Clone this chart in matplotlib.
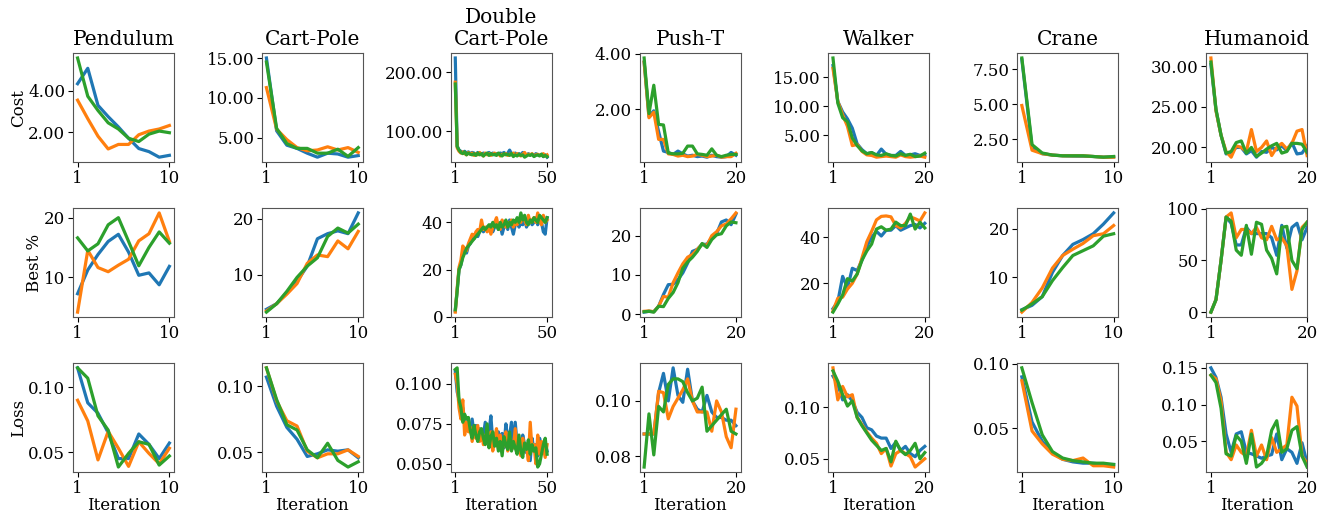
import matplotlib
matplotlib.use("Agg")
import matplotlib.pyplot as plt
from matplotlib.ticker import MaxNLocator, FormatStrFormatter

plt.rcParams['font.family'] = ['DejaVu Serif']

tasks = ["Pendulum", "Cart-Pole", "Double\nCart-Pole", "Push-T", "Walker", "Crane", "Humanoid"]
n_iters = [10, 10, 50, 20, 20, 10, 20]
row_labels = ["Cost", "Best %", "Loss"]
colors = ["#1f77b4", "#ff7f0e", "#2ca02c"]

# ---------------- Cost ----------------
pend_cost_b = [4.35, 5.1, 3.3, 2.75, 2.25, 1.7, 1.2, 1.05, 0.78, 0.87]
pend_cost_o = [3.55, 2.65, 1.8, 1.18, 1.4, 1.4, 1.87, 2.05, 2.15, 2.32]
pend_cost_g = [5.6, 3.74, 3.05, 2.45, 2.15, 1.7, 1.54, 1.9, 2.05, 1.97]

cart_cost_b = [15.0, 5.9, 4.1, 3.7, 3.1, 2.6, 3.1, 3.0, 2.6, 2.8]
cart_cost_o = [11.3, 6.1, 4.8, 3.8, 3.4, 3.5, 3.9, 3.5, 3.8, 3.2]
cart_cost_g = [14.5, 6.2, 4.3, 3.7, 3.7, 3.1, 3.1, 3.6, 2.7, 3.8]

dcp_cost_b = [224, 75, 68, 66, 64, 66, 63, 65, 62, 64, 63, 61, 64, 62, 60, 63, 61, 62, 64, 61,
              63, 60, 62, 61, 63, 62, 64, 61, 63, 68, 62, 60, 63, 61, 62, 60, 64, 61, 59, 62,
              60, 61, 58, 62, 60, 59, 61, 57, 60, 56]
dcp_cost_o = [183, 72, 66, 63, 65, 62, 60, 64, 61, 63, 59, 62, 60, 64, 61, 58, 63, 60, 62, 59,
              61, 63, 60, 62, 58, 61, 60, 62, 59, 61, 60, 63, 59, 62, 60, 58, 61, 64, 59, 61,
              60, 62, 58, 60, 61, 59, 60, 62, 58, 60]
dcp_cost_g = [180, 74, 68, 64, 62, 65, 60, 63, 61, 60, 62, 59, 63, 60, 62, 58, 61, 63, 59, 62,
              60, 61, 59, 63, 60, 58, 62, 60, 61, 59, 62, 57, 60, 58, 61, 59, 60, 56, 58, 60,
              59, 61, 57, 59, 60, 58, 61, 57, 59, 57]

pusht_cost_b = [3.7, 1.75, 1.95, 1.2, 0.5, 0.45, 0.38, 0.5, 0.4, 0.32, 0.35, 0.3, 0.32, 0.28,
                0.35, 0.3, 0.28, 0.3, 0.45, 0.35]
pusht_cost_o = [3.7, 1.7, 1.9, 0.92, 0.92, 0.4, 0.38, 0.32, 0.35, 0.3, 0.32, 0.38, 0.35, 0.3,
                0.32, 0.35, 0.28, 0.3, 0.3, 0.42]
pusht_cost_g = [3.85, 1.85, 2.87, 1.46, 1.44, 0.43, 0.4, 0.4, 0.42, 0.68, 0.68, 0.4, 0.38, 0.35,
                0.58, 0.35, 0.3, 0.35, 0.38, 0.38]

walk_cost_b = [17.0, 10.8, 9.0, 7.8, 6.2, 3.5, 2.5, 1.8, 2.0, 1.5, 2.6, 1.7, 1.5, 1.5, 2.2,
               1.5, 1.6, 1.8, 1.5, 1.6]
walk_cost_o = [16.5, 10.8, 8.5, 6.5, 3.2, 3.4, 2.2, 1.6, 1.5, 1.2, 1.3, 1.4, 1.3, 1.2, 1.6,
               1.3, 1.2, 1.3, 1.4, 1.2]
walk_cost_g = [18.3, 10.5, 8.0, 7.3, 4.5, 3.2, 2.3, 1.8, 2.0, 1.6, 1.5, 1.8, 1.5, 1.4, 1.8,
               1.5, 1.7, 1.3, 1.4, 1.9]

crane_cost_b = [8.2, 1.9, 1.45, 1.35, 1.3, 1.28, 1.27, 1.25, 1.2, 1.22]
crane_cost_o = [4.9, 1.7, 1.45, 1.35, 1.3, 1.3, 1.3, 1.25, 1.2, 1.2]
crane_cost_g = [8.3, 2.1, 1.5, 1.35, 1.3, 1.3, 1.3, 1.25, 1.2, 1.25]

hum_cost_b = [30.2, 24.6, 21.5, 19.2, 19.4, 20.0, 20.0, 19.2, 19.6, 18.8, 19.5, 19.4, 20.0,
              19.7, 20.2, 19.6, 20.6, 19.2, 19.3, 20.2]
hum_cost_o = [31.0, 24.5, 21.5, 19.5, 18.8, 20.2, 20.0, 19.5, 22.2, 19.5, 20.0, 20.8, 19.0,
              20.0, 20.5, 19.8, 20.5, 22.0, 22.2, 19.0]
hum_cost_g = [30.5, 24.7, 21.5, 19.3, 19.5, 20.6, 20.8, 19.3, 20.0, 18.9, 19.3, 19.8, 20.2,
              20.5, 19.3, 19.5, 20.5, 20.5, 20.4, 19.4]

# ---------------- Best % ----------------
pend_best_b = [7.2, 11.2, 13.8, 16.0, 17.2, 14.2, 10.3, 10.7, 8.7, 11.8]
pend_best_o = [4.1, 14.5, 11.6, 10.9, 12.0, 13.0, 16.1, 17.3, 20.8, 16.0]
pend_best_g = [16.6, 14.4, 15.6, 18.8, 20.0, 16.0, 11.9, 15.0, 17.6, 15.7]

cart_best_b = [3.8, 4.8, 6.8, 8.8, 11.5, 16.4, 17.3, 17.8, 17.3, 21.0]
cart_best_o = [3.5, 4.8, 6.5, 8.4, 12.0, 13.5, 13.2, 16.0, 14.6, 17.7]
cart_best_g = [3.3, 4.8, 7.0, 9.5, 11.5, 13.0, 16.8, 18.3, 17.4, 19.0]

dcp_best_b = [2.5, 11, 20, 22, 26, 28, 27, 30, 31, 33, 33, 35, 34, 36, 38, 36, 37, 38, 37, 39,
              36, 38, 40, 37, 39, 35, 38, 40, 37, 41, 38, 35, 39, 41, 38, 40, 39, 42, 38, 40,
              41, 39, 40, 42, 39, 41, 40, 36, 35, 42]
dcp_best_o = [2.0, 12, 21, 24, 30, 29, 28, 31, 33, 35, 34, 36, 37, 36, 41, 37, 38, 36, 38, 35,
              38, 40, 42, 38, 37, 41, 39, 38, 40, 39, 41, 38, 40, 39, 41, 40, 42, 41, 39, 43,
              40, 41, 42, 40, 44, 41, 39, 43, 40, 41]
dcp_best_g = [3.0, 11, 20, 22, 25, 27, 29, 30, 31, 32, 33, 34, 35, 36, 37, 38, 37, 38, 39, 38,
              40, 38, 39, 37, 40, 38, 39, 41, 38, 40, 39, 41, 40, 42, 40, 44, 41, 43, 40, 39,
              41, 40, 42, 41, 40, 43, 42, 41, 40, 42]

pusht_best_b = [0.5, 0.7, 0.6, 2.0, 5.0, 7.5, 7.6, 8.8, 10.5, 13.0, 16.0, 16.5, 17.8, 17.8,
                19.5, 20.5, 23.5, 24.0, 22.8, 25.5]
pusht_best_o = [0.7, 0.8, 0.6, 2.0, 4.5, 4.3, 8.0, 10.5, 12.8, 14.5, 15.2, 16.5, 17.8, 17.5,
                20.0, 21.0, 22.5, 23.0, 24.3, 25.8]
pusht_best_g = [0.6, 0.7, 0.5, 2.0, 1.9, 4.0, 5.5, 8.0, 11.7, 13.3, 14.5, 16.0, 18.0, 17.0,
                19.0, 20.2, 20.5, 22.5, 23.5, 23.3]

walk_best_b = [9, 12, 23, 18, 26.5, 25.5, 30, 36, 40, 42.5, 40.5, 43, 43, 45, 43, 44, 45, 45.5,
               44, 46]
walk_best_o = [8, 13.5, 14, 17.5, 20, 24, 31, 38, 42.5, 47.5, 49, 49.2, 48.8, 45, 44, 46,
               48.8, 48, 47, 50.5]
walk_best_g = [7.5, 11, 15, 22, 21, 24, 30, 34, 37, 43.5, 44.5, 43, 43.5, 46.5, 45, 45, 50,
               43.5, 46.5, 44]

crane_best_b = [3.3, 4.2, 6.0, 11.0, 14.5, 16.8, 17.8, 19.0, 21.0, 23.3]
crane_best_o = [2.8, 4.8, 7.8, 11.9, 14.5, 15.8, 17.0, 18.6, 19.0, 20.7]
crane_best_g = [3.2, 4.5, 6.0, 9.3, 12.0, 14.5, 15.5, 16.5, 18.5, 19.0]

hum_best_b = [0, 12, 50, 92, 86, 65, 65, 82, 76, 76, 76, 76, 72, 55, 84, 62, 82, 86, 70, 82]
hum_best_o = [0, 12, 50, 92, 96, 72, 80, 80, 76, 82, 72, 70, 83, 70, 72, 64, 22, 40, 82, 87]
hum_best_g = [0, 12, 50, 92, 88, 60, 55, 84, 56, 87, 85, 60, 52, 37, 82, 83, 50, 42, 80, 87]

# ---------------- Loss ----------------
pend_loss_b = [0.115, 0.088, 0.080, 0.065, 0.045, 0.045, 0.064, 0.056, 0.045, 0.057]
pend_loss_o = [0.090, 0.074, 0.044, 0.066, 0.053, 0.039, 0.058, 0.049, 0.041, 0.053]
pend_loss_g = [0.115, 0.107, 0.078, 0.067, 0.0385, 0.049, 0.058, 0.056, 0.040, 0.047]

cart_loss_b = [0.107, 0.085, 0.069, 0.060, 0.047, 0.049, 0.052, 0.051, 0.052, 0.046]
cart_loss_o = [0.114, 0.089, 0.074, 0.070, 0.051, 0.046, 0.049, 0.049, 0.052, 0.047]
cart_loss_g = [0.114, 0.090, 0.071, 0.067, 0.052, 0.046, 0.057, 0.044, 0.039, 0.043]

dcp_loss_b = [0.108, 0.095, 0.090, 0.083, 0.085, 0.078, 0.072, 0.076, 0.070, 0.078, 0.069, 0.074,
              0.066, 0.072, 0.065, 0.068, 0.076, 0.066, 0.070, 0.080, 0.064, 0.068, 0.062, 0.070,
              0.064, 0.069, 0.060, 0.075, 0.065, 0.068, 0.076, 0.060, 0.076, 0.062, 0.064, 0.058,
              0.068, 0.062, 0.057, 0.063, 0.052, 0.066, 0.058, 0.062, 0.055, 0.066, 0.060, 0.059,
              0.063, 0.058]
dcp_loss_o = [0.106, 0.100, 0.085, 0.078, 0.090, 0.068, 0.076, 0.070, 0.073, 0.064, 0.071, 0.066,
              0.074, 0.064, 0.070, 0.062, 0.068, 0.063, 0.064, 0.070, 0.058, 0.066, 0.072, 0.060,
              0.068, 0.058, 0.064, 0.070, 0.058, 0.066, 0.062, 0.060, 0.072, 0.058, 0.064, 0.055,
              0.066, 0.059, 0.061, 0.052, 0.076, 0.058, 0.062, 0.050, 0.068, 0.056, 0.064, 0.060,
              0.054, 0.062]
dcp_loss_g = [0.109, 0.110, 0.090, 0.085, 0.076, 0.081, 0.078, 0.079, 0.071, 0.066, 0.074, 0.068,
              0.064, 0.070, 0.072, 0.066, 0.062, 0.075, 0.060, 0.067, 0.070, 0.061, 0.066, 0.058,
              0.064, 0.055, 0.067, 0.062, 0.059, 0.070, 0.058, 0.064, 0.060, 0.056, 0.068, 0.058,
              0.054, 0.063, 0.059, 0.065, 0.056, 0.062, 0.058, 0.060, 0.048, 0.050, 0.056, 0.062,
              0.066, 0.056]

pusht_loss_b = [0.088, 0.088, 0.088, 0.103, 0.110, 0.100, 0.112, 0.102, 0.0995, 0.1115, 0.100,
                0.097, 0.096, 0.102, 0.096, 0.094, 0.094, 0.093, 0.093, 0.091]
pusht_loss_o = [0.088, 0.088, 0.088, 0.1035, 0.103, 0.0935, 0.098, 0.101, 0.104, 0.108, 0.100,
                0.096, 0.096, 0.096, 0.089, 0.100, 0.096, 0.087, 0.083, 0.097]
pusht_loss_g = [0.076, 0.0953, 0.0804, 0.098, 0.096, 0.106, 0.108, 0.108, 0.107, 0.103, 0.100,
                0.101, 0.105, 0.089, 0.091, 0.093, 0.095, 0.097, 0.089, 0.088]

walk_loss_b = [0.130, 0.122, 0.107, 0.112, 0.106, 0.095, 0.090, 0.080, 0.078, 0.072, 0.070,
               0.070, 0.060, 0.066, 0.058, 0.062, 0.055, 0.052, 0.058, 0.062]
walk_loss_o = [0.138, 0.107, 0.120, 0.110, 0.112, 0.090, 0.083, 0.076, 0.070, 0.065, 0.055,
               0.060, 0.043, 0.055, 0.058, 0.055, 0.052, 0.042, 0.046, 0.050]
walk_loss_g = [0.135, 0.125, 0.112, 0.101, 0.106, 0.090, 0.082, 0.075, 0.068, 0.063, 0.058,
               0.060, 0.047, 0.067, 0.058, 0.054, 0.058, 0.065, 0.050, 0.056]

crane_loss_b = [0.090, 0.055, 0.040, 0.031, 0.026, 0.024, 0.023, 0.023, 0.022, 0.022]
crane_loss_o = [0.087, 0.048, 0.038, 0.030, 0.026, 0.025, 0.027, 0.021, 0.021, 0.020]
crane_loss_g = [0.097, 0.070, 0.045, 0.032, 0.027, 0.025, 0.024, 0.023, 0.023, 0.022]

hum_loss_b = [0.150, 0.137, 0.110, 0.060, 0.035, 0.060, 0.063, 0.035, 0.033, 0.030, 0.027,
              0.030, 0.032, 0.060, 0.025, 0.040, 0.035, 0.020, 0.048, 0.020]
hum_loss_o = [0.140, 0.135, 0.105, 0.035, 0.025, 0.045, 0.035, 0.030, 0.065, 0.030, 0.045,
              0.025, 0.055, 0.035, 0.040, 0.045, 0.110, 0.098, 0.030, 0.020]
hum_loss_g = [0.140, 0.130, 0.095, 0.033, 0.030, 0.058, 0.050, 0.020, 0.060, 0.015, 0.020,
              0.030, 0.065, 0.078, 0.035, 0.040, 0.065, 0.070, 0.030, 0.015]

cost = [(pend_cost_b, pend_cost_o, pend_cost_g), (cart_cost_b, cart_cost_o, cart_cost_g),
        (dcp_cost_b, dcp_cost_o, dcp_cost_g), (pusht_cost_b, pusht_cost_o, pusht_cost_g),
        (walk_cost_b, walk_cost_o, walk_cost_g), (crane_cost_b, crane_cost_o, crane_cost_g),
        (hum_cost_b, hum_cost_o, hum_cost_g)]
best = [(pend_best_b, pend_best_o, pend_best_g), (cart_best_b, cart_best_o, cart_best_g),
        (dcp_best_b, dcp_best_o, dcp_best_g), (pusht_best_b, pusht_best_o, pusht_best_g),
        (walk_best_b, walk_best_o, walk_best_g), (crane_best_b, crane_best_o, crane_best_g),
        (hum_best_b, hum_best_o, hum_best_g)]
loss = [(pend_loss_b, pend_loss_o, pend_loss_g), (cart_loss_b, cart_loss_o, cart_loss_g),
        (dcp_loss_b, dcp_loss_o, dcp_loss_g), (pusht_loss_b, pusht_loss_o, pusht_loss_g),
        (walk_loss_b, walk_loss_o, walk_loss_g), (crane_loss_b, crane_loss_o, crane_loss_g),
        (hum_loss_b, hum_loss_o, hum_loss_g)]
rows = [cost, best, loss]

# explicit cost ticks where the reference deviates from auto ticks
cost_ticks = {4: [5, 10, 15], 5: [2.5, 5.0, 7.5]}

fig, axes = plt.subplots(3, 7, figsize=(13.27, 5.15), dpi=100)
fig.subplots_adjust(left=0.055, right=0.985, top=0.897, bottom=0.0835, wspace=0.87, hspace=0.42)

for r, row in enumerate(rows):
    for c, series in enumerate(row):
        ax = axes[r, c]
        n = n_iters[c]
        xs = list(range(1, n + 1))
        for s, col in zip(series, colors):
            ax.plot(xs, s, color=col, lw=2.3)
        ax.set_xticks([1, n])
        ax.set_xticklabels([str(1), str(n)])
        ax.yaxis.set_major_locator(MaxNLocator(nbins=3, steps=[1, 2, 2.5, 5, 10]))
        if r == 0:
            if c in cost_ticks:
                ax.set_yticks(cost_ticks[c])
            ax.yaxis.set_major_formatter(FormatStrFormatter('%.2f'))
            ax.set_title(tasks[c], fontsize=14.5)
        if c == 6:
            ax.set_xlim(right=20)
        ax.tick_params(labelsize=12, pad=2)
        for sp in ax.spines.values():
            sp.set_color('#555555')
        if c == 0:
            ax.set_ylabel(row_labels[r], fontsize=12, labelpad=1)
        if r == 2:
            ax.set_xlabel("Iteration", fontsize=12, labelpad=0)

fig.savefig("out.png", dpi=100)
